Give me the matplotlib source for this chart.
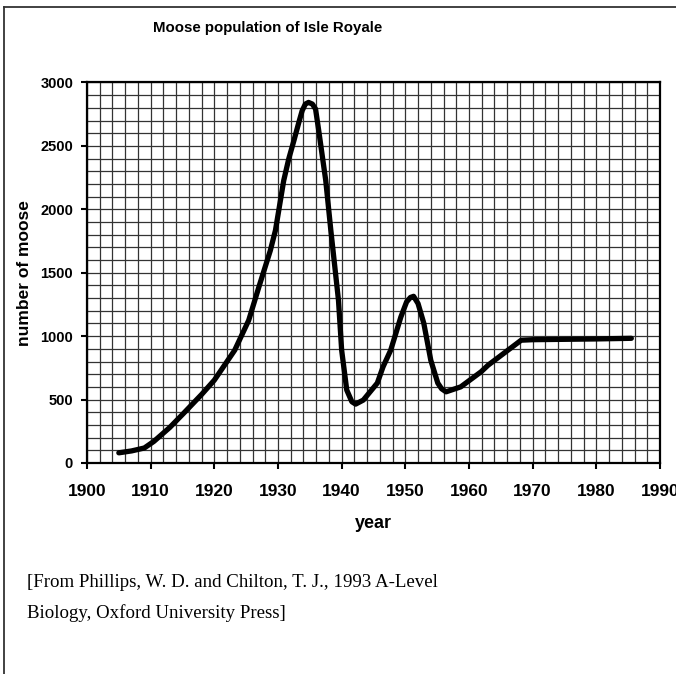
import matplotlib
matplotlib.use("Agg")
import matplotlib.pyplot as plt
import numpy as np

# (rok, liczba łosi)
lata = [1905, 1907, 1909, 1910.5, 1913, 1915.2, 1918, 1920, 1923.2, 1925.4,
        1927, 1928.8, 1929.6, 1930.9, 1931.7, 1932.5, 1933.3, 1933.8, 1934.3, 1934.8,
        1935.4, 1935.9, 1936.4, 1937.5, 1938.3, 1939.5, 1940.0, 1940.8, 1941.6,
        1942.2, 1943.4, 1945.6, 1946.5, 1947.7, 1949.3, 1950.2, 1950.8, 1951.3,
        1952.0, 1952.9, 1954, 1955.1, 1955.7, 1956.4, 1958.7, 1961.9, 1963,
        1968.2, 1970, 1975, 1980, 1985.5]
losie = [80, 95, 118, 170, 280, 393, 540, 653, 889, 1125,
         1388, 1676, 1834, 2227, 2400, 2542, 2690, 2778, 2830, 2843,
         2830, 2791, 2620, 2227, 1834, 1283, 889, 575, 483,
         464, 496, 630, 758, 889, 1151, 1270, 1305, 1314,
         1257, 1102, 810, 630, 585, 561, 600, 719, 771,
         968, 972, 975, 978, 983]

x_ticki = [1900, 1910, 1920, 1930, 1940, 1950, 1960, 1970, 1980, 1990]
y_ticki = [0, 500, 1000, 1500, 2000, 2500, 3000]

sans = ['Liberation Sans', 'DejaVu Sans']
serif = ['Liberation Serif', 'DejaVu Serif']

fig = plt.figure(figsize=(6.76, 6.74), dpi=100)
ax = fig.add_axes([0.1287, 0.3131, 0.8476, 0.5645])

# siatka jak na papierze milimetrowym
ax.set_xticks(np.arange(1900, 1991, 2), minor=True)
ax.set_yticks(np.arange(0, 3001, 100), minor=True)
ax.grid(True, which='minor', color='#333333', linewidth=0.9)
ax.grid(True, which='major', color='#333333', linewidth=0.9)
ax.set_axisbelow(True)

ax.plot(lata, losie, color='black', linewidth=3.8, solid_capstyle='round',
        solid_joinstyle='round', clip_on=False, zorder=5)

ax.set_xlim(1900, 1990)
ax.set_ylim(0, 3000)
ax.set_xticks(x_ticki)
ax.set_yticks(y_ticki)
ax.set_xticklabels([str(t) for t in x_ticki], family=sans, fontweight='bold', fontsize=12.5)
ax.set_yticklabels([str(t) for t in y_ticki], family=sans, fontweight='bold', fontsize=10.5)
ax.tick_params(axis='x', which='major', length=4, width=1.5, pad=11, direction='out')
ax.tick_params(axis='y', which='major', length=4, width=1.5, pad=6, direction='out')
ax.tick_params(which='minor', length=0)

for s in ax.spines.values():
    s.set_color('black')
    s.set_linewidth(1.6)

ax.set_xlabel('year', family=sans, fontweight='bold', fontsize=13, labelpad=12)
ax.set_ylabel('number of moose', family=sans, fontweight='bold', fontsize=12.5, labelpad=6)

fig.text(268 / 676, 1 - 28 / 674, 'Moose population of Isle Royale', family=sans,
         fontweight='bold', fontsize=10.8, ha='center', va='center')

# podpis ze źródłem, dwie linie
fig.text(27 / 676, 1 - 587 / 674,
         '[From Phillips, W. D. and Chilton, T. J., 1993 A-Level',
         family=serif, fontsize=13.6, ha='left', va='baseline')
fig.text(27 / 676, 1 - 618 / 674, 'Biology, Oxford University Press]',
         family=serif, fontsize=13.6, ha='left', va='baseline')

# ramka dookoła (góra i lewa strona)
fig.add_artist(plt.Line2D([4 / 676, 1], [1 - 7 / 674, 1 - 7 / 674], color='#333333', linewidth=1.3))
fig.add_artist(plt.Line2D([4 / 676, 4 / 676], [0, 1 - 7 / 674], color='#333333', linewidth=1.3))

fig.savefig('out.png', dpi=100, facecolor='white')
